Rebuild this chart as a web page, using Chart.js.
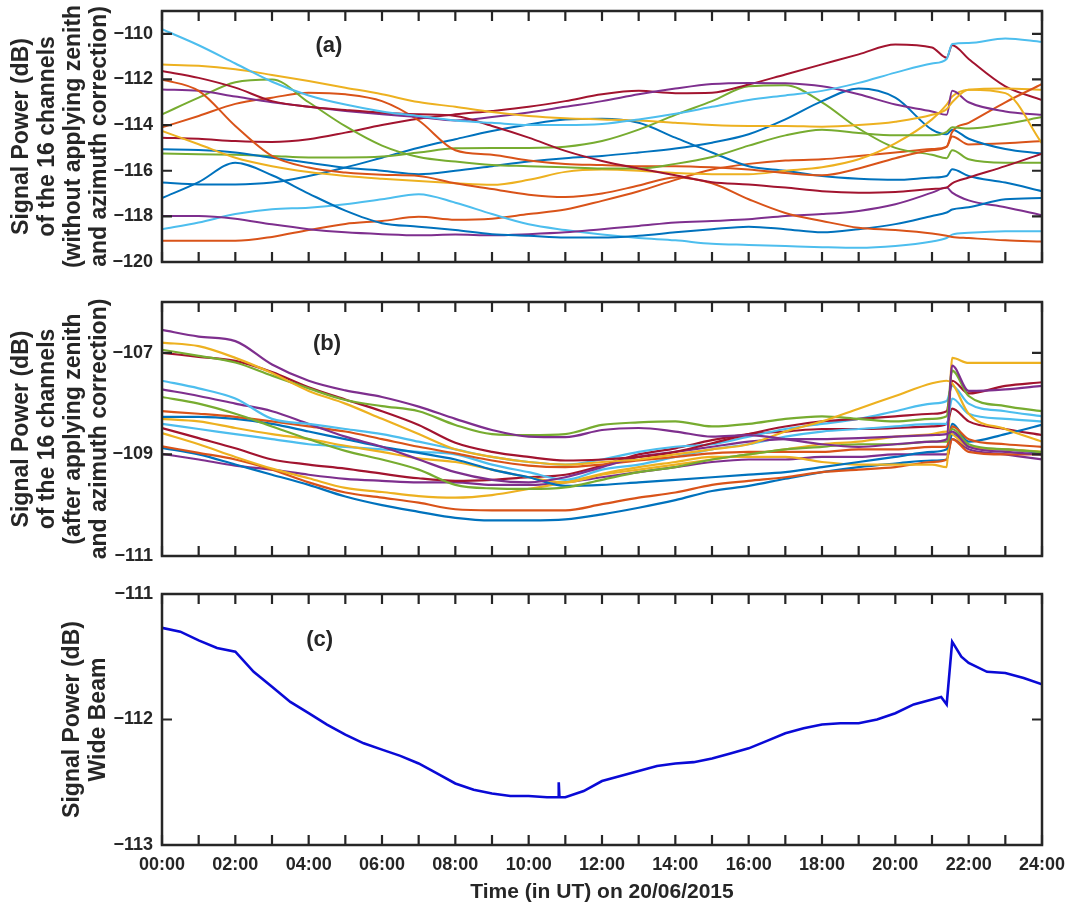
<!DOCTYPE html>
<html>
<head>
<meta charset="utf-8">
<script src="https://cdn.jsdelivr.net/npm/chart.js@4.4.1/dist/chart.umd.min.js"></script>
<style>
  body { margin: 0; background: #fff; }
  #wrap { position: relative; width: 1075px; height: 905px; background: #fff; }
  canvas { position: absolute; left: 0; }
</style>
</head>
<body>
<div id="wrap">
  <canvas id="chartA" width="1075" height="280" style="top:0"></canvas>
  <canvas id="chartB" width="1075" height="290" style="top:280px"></canvas>
  <canvas id="chartC" width="1075" height="335" style="top:570px"></canvas>
</div>
<script>
// ===== 数据（小时，dB） =====
const timeAB = [0, 1, 2, 3, 4, 5, 6, 7, 8, 9, 10, 11, 12, 13, 14, 15, 16, 17, 18, 19, 20, 21, 21.4, 21.55, 22, 23, 24];

// (a) 16 个通道，未做天顶/方位角修正
const aLightBlue1 = [-109.8, -110.5, -111.3, -112.1, -112.7, -113.1, -113.4, -113.6, -113.8, -113.9, -114.0, -114.0, -113.95, -113.75, -113.5, -113.2, -112.9, -112.7, -112.5, -112.15, -111.7, -111.3, -111.1, -110.45, -110.4, -110.2, -110.35];
const aYellow1 = [-111.35, -111.4, -111.55, -111.8, -112.07, -112.36, -112.65, -112.99, -113.2, -113.43, -113.6, -113.7, -113.75, -113.8, -113.9, -114.0, -114.04, -114.04, -114.07, -114.0, -113.85, -113.55, -113.3, -113.0, -112.45, -112.6, -114.8];
const aDarkRed1 = [-111.63, -111.93, -112.36, -112.95, -113.2, -113.34, -113.46, -113.53, -113.6, -114.04, -114.55, -115.13, -115.57, -115.9, -116.2, -116.5, -116.6, -116.74, -116.9, -116.96, -116.93, -116.8, -116.74, -116.55, -116.3, -115.8, -115.25];
const aOrange1 = [-112.0, -112.5, -114.04, -115.35, -115.86, -116.08, -116.18, -116.23, -116.55, -116.8, -117.05, -117.15, -117.0, -116.65, -116.3, -116.55, -117.25, -117.85, -118.2, -118.5, -118.6, -118.75, -118.85, -118.9, -118.95, -119.05, -119.1];
const aPurple1 = [-112.44, -112.5, -112.75, -113.0, -113.2, -113.38, -113.53, -113.65, -113.8, -113.65, -113.45, -113.2, -112.95, -112.65, -112.4, -112.2, -112.15, -112.17, -112.3, -112.65, -113.1, -113.4, -113.55, -112.5, -113.0, -113.4, -113.55];
const aGreen1 = [-113.53, -112.8, -112.12, -112.0, -113.0, -114.05, -114.9, -115.4, -115.6, -115.75, -115.8, -115.85, -115.9, -115.9, -115.7, -115.4, -114.9, -114.45, -114.2, -114.35, -114.45, -114.45, -114.3, -114.1, -114.15, -113.95, -113.65];
const aOrange2 = [-114.1, -113.6, -113.07, -112.8, -112.58, -112.65, -112.95, -113.8, -115.1, -115.3, -115.55, -115.7, -115.75, -115.8, -115.8, -115.85, -115.95, -116.1, -116.2, -115.9, -115.45, -115.1, -114.95, -114.3, -113.9, -113.0, -112.2];
const aYellow2 = [-114.26, -114.84, -115.43, -115.8, -116.06, -116.23, -116.35, -116.45, -116.55, -116.62, -116.4, -116.05, -115.95, -116.0, -116.1, -116.15, -116.15, -116.0, -115.85, -115.5, -114.8, -113.75, -113.1, -112.75, -112.45, -112.4, -112.45];
const aDarkRed2 = [-114.55, -114.6, -114.7, -114.74, -114.62, -114.33, -114.0, -113.72, -113.53, -113.38, -113.2, -112.95, -112.65, -112.5, -112.6, -112.58, -112.22, -111.78, -111.34, -110.9, -110.47, -110.6, -111.05, -110.5, -111.1, -112.3, -112.9];
const aBlue1 = [-115.06, -115.09, -115.2, -115.43, -115.65, -115.87, -116.0, -116.15, -116.0, -115.8, -115.6, -115.45, -115.35, -115.2, -115.03, -114.77, -114.4, -113.75, -112.95, -112.4, -112.8, -114.2, -114.4, -114.2, -114.6, -115.05, -115.25];
const aGreen2 = [-115.24, -115.28, -115.3, -115.35, -115.42, -115.42, -115.38, -115.2, -115.02, -115.0, -115.0, -114.95, -114.7, -114.2, -113.55, -112.95, -112.3, -112.25, -113.0, -114.15, -115.0, -115.3, -115.45, -115.1, -115.5, -115.65, -115.65];
const aBlue2 = [-116.52, -116.6, -116.6, -116.52, -116.23, -115.86, -115.43, -114.99, -114.62, -114.26, -113.97, -113.75, -113.72, -113.9, -114.55, -115.2, -115.8, -116.0, -116.23, -116.35, -116.4, -116.3, -116.23, -115.94, -116.23, -116.52, -116.9];
const aBlue3 = [-117.2, -116.5, -115.65, -116.2, -117.0, -117.75, -118.3, -118.45, -118.6, -118.78, -118.85, -118.93, -118.93, -118.85, -118.7, -118.56, -118.45, -118.56, -118.7, -118.56, -118.34, -117.98, -117.83, -117.7, -117.6, -117.25, -117.2];
const aPurple2 = [-117.98, -117.98, -118.1, -118.35, -118.56, -118.7, -118.78, -118.83, -118.8, -118.83, -118.78, -118.7, -118.56, -118.42, -118.27, -118.2, -118.13, -117.98, -117.9, -117.76, -117.47, -116.96, -116.74, -116.96, -117.3, -117.6, -117.95];
const aLightBlue2 = [-118.56, -118.27, -117.9, -117.69, -117.62, -117.47, -117.25, -117.03, -117.4, -117.9, -118.35, -118.6, -118.8, -118.95, -119.05, -119.2, -119.25, -119.3, -119.35, -119.38, -119.3, -119.1, -118.95, -118.8, -118.72, -118.65, -118.65];
const aOrange3 = [-119.07, -119.07, -119.07, -118.9, -118.6, -118.33, -118.2, -118.02, -118.15, -118.1, -117.9, -117.7, -117.32, -116.9, -116.4, -115.95, -115.7, -115.55, -115.5, -115.35, -115.2, -115.05, -114.95, -114.5, -114.85, -114.8, -114.7];

// (b) 16 个通道，做了天顶/方位角修正
const bPurple1 = [-106.55, -106.68, -106.77, -107.23, -107.55, -107.74, -107.87, -108.06, -108.3, -108.52, -108.65, -108.66, -108.52, -108.48, -108.55, -108.65, -108.62, -108.7, -108.8, -108.85, -108.8, -108.75, -108.7, -107.25, -107.75, -107.72, -107.65];
const bYellow1 = [-106.8, -106.87, -107.1, -107.4, -107.75, -108.0, -108.3, -108.6, -108.9, -109.05, -109.15, -109.2, -109.15, -109.1, -109.0, -108.9, -108.8, -108.55, -108.35, -108.1, -107.85, -107.6, -107.55, -107.6, -108.2, -108.5, -108.75];
const bGreen1 = [-106.94, -107.06, -107.19, -107.45, -107.7, -107.93, -108.05, -108.15, -108.42, -108.6, -108.62, -108.6, -108.42, -108.37, -108.35, -108.45, -108.4, -108.3, -108.25, -108.3, -108.35, -108.3, -108.25, -107.35, -107.85, -108.05, -108.15];
const bDarkRed1 = [-107.0, -107.08, -107.16, -107.38, -107.68, -107.92, -108.15, -108.42, -108.77, -108.95, -109.05, -109.12, -109.1, -109.05, -108.95, -108.78, -108.6, -108.45, -108.35, -108.3, -108.25, -108.2, -108.15, -107.55, -107.8, -107.65, -107.58];
const bLightBlue1 = [-107.55, -107.7, -107.9, -108.3, -108.4, -108.5, -108.6, -108.75, -108.9, -109.05, -109.15, -109.2, -109.1, -108.95, -108.85, -108.8, -108.65, -108.5, -108.4, -108.3, -108.15, -108.0, -107.95, -107.65, -108.0, -108.15, -108.25];
const bPurple2 = [-107.72, -107.85, -108.0, -108.15, -108.4, -108.65, -108.85, -109.1, -109.35, -109.5, -109.55, -109.45, -109.25, -109.05, -108.95, -108.85, -108.75, -108.7, -108.7, -108.68, -108.65, -108.62, -108.6, -108.55, -108.85, -108.95, -109.0];
const bGreen2 = [-107.87, -108.0, -108.2, -108.45, -108.7, -108.93, -109.1, -109.3, -109.6, -109.67, -109.68, -109.65, -109.5, -109.35, -109.25, -109.1, -109.0, -108.9, -108.85, -108.8, -108.8, -108.75, -108.75, -108.5, -108.8, -108.9, -108.95];
const bOrange1 = [-108.15, -108.2, -108.26, -108.35, -108.45, -108.55, -108.7, -108.85, -108.98, -109.12, -109.22, -109.25, -109.2, -109.12, -109.05, -108.98, -108.95, -108.95, -108.95, -108.9, -108.9, -108.85, -108.85, -108.45, -108.7, -108.8, -108.85];
const bBlue1 = [-108.26, -108.26, -108.3, -108.4, -108.55, -108.7, -108.85, -108.97, -109.1, -109.3, -109.45, -109.62, -109.6, -109.55, -109.5, -109.45, -109.4, -109.35, -109.25, -109.15, -109.05, -108.95, -108.9, -108.4, -108.75, -108.6, -108.42];
const bYellow2 = [-108.3, -108.35, -108.48, -108.6, -108.7, -108.83, -108.95, -109.08, -109.15, -109.3, -109.45, -109.55, -109.4, -109.3, -109.2, -109.1, -109.0, -108.9, -108.8, -108.75, -108.65, -108.6, -108.55, -108.6, -108.85, -108.9, -108.95];
const bLightBlue2 = [-108.4, -108.5, -108.6, -108.7, -108.8, -108.85, -108.9, -108.95, -109.0, -109.2, -109.35, -109.5, -109.3, -109.2, -109.05, -108.9, -108.8, -108.65, -108.55, -108.5, -108.45, -108.4, -108.4, -107.9, -108.2, -108.3, -108.35];
const bDarkRed2 = [-108.48, -108.68, -108.88, -109.1, -109.2, -109.28, -109.38, -109.47, -109.52, -109.5, -109.45, -109.4, -109.22, -109.0, -108.88, -108.72, -108.6, -108.55, -108.5, -108.5, -108.48, -108.45, -108.4, -108.1, -108.35, -108.5, -108.62];
const bYellow3 = [-108.58, -108.8, -109.05, -109.28, -109.47, -109.66, -109.74, -109.82, -109.85, -109.8, -109.68, -109.55, -109.38, -109.25, -109.15, -109.05, -109.05, -109.05, -109.15, -109.2, -109.2, -109.2, -109.25, -107.1, -107.2, -107.2, -107.2];
const bOrange2 = [-108.84, -108.97, -109.1, -109.3, -109.55, -109.75, -109.85, -109.95, -110.08, -110.1, -110.1, -110.1, -109.98, -109.85, -109.75, -109.6, -109.52, -109.45, -109.35, -109.3, -109.25, -109.15, -109.1, -108.7, -108.95, -109.0, -109.0];
const bBlue2 = [-108.87, -109.0, -109.2, -109.4, -109.6, -109.83, -110.0, -110.13, -110.25, -110.3, -110.3, -110.28, -110.18, -110.05, -109.9, -109.72, -109.62, -109.48, -109.35, -109.25, -109.18, -109.12, -109.1, -108.6, -108.85, -108.9, -108.97];
const bPurple3 = [-108.99, -109.1, -109.22, -109.3, -109.4, -109.48, -109.52, -109.55, -109.55, -109.6, -109.6, -109.55, -109.45, -109.35, -109.25, -109.15, -109.1, -109.1, -109.05, -109.05, -109.0, -109.0, -109.0, -108.7, -108.9, -109.0, -109.1];

// (c) 宽波束
const timeC = [0, 0.5, 1, 1.5, 2, 2.5, 3, 3.5, 4, 4.5, 5, 5.5, 6, 6.5, 7, 7.5, 8, 8.5, 9, 9.5, 10, 10.5, 10.8, 10.82, 10.84, 11, 11.5, 12, 12.5, 13, 13.5, 14, 14.5, 15, 15.5, 16, 16.5, 17, 17.5, 18, 18.5, 19, 19.5, 20, 20.5, 21, 21.25, 21.4, 21.55, 21.8, 22, 22.5, 23, 23.5, 24];
const wideBeam = [-111.27, -111.3, -111.37, -111.43, -111.46, -111.62, -111.74, -111.86, -111.95, -112.04, -112.12, -112.19, -112.24, -112.29, -112.35, -112.43, -112.51, -112.56, -112.59, -112.61, -112.61, -112.62, -112.62, -112.5, -112.62, -112.62, -112.57, -112.49, -112.45, -112.41, -112.37, -112.35, -112.34, -112.31, -112.27, -112.23, -112.17, -112.11, -112.07, -112.04, -112.03, -112.03, -112.0, -111.95, -111.88, -111.84, -111.82, -111.88, -111.38, -111.5, -111.55, -111.62, -111.63, -111.67, -111.72];

// 刻度
const hourTicks = [0, 1, 2, 3, 4, 5, 6, 7, 8, 9, 10, 11, 12, 13, 14, 15, 16, 17, 18, 19, 20, 21, 22, 23, 24];
const xLabelHours = [0, 2, 4, 6, 8, 10, 12, 14, 16, 18, 20, 22, 24];
const xTickLabels = ['00:00', '02:00', '04:00', '06:00', '08:00', '10:00', '12:00', '14:00', '16:00', '18:00', '20:00', '22:00', '24:00'];
const yTicksA = [-120, -118, -116, -114, -112, -110];
const yTicksB = [-111, -109, -107];
const yTicksC = [-113, -112, -111];

// ===== 样式 =====
const C_BLUE = '#0072BD', C_ORANGE = '#D95319', C_YELLOW = '#EDB120', C_PURPLE = '#7E2F8E',
      C_GREEN = '#77AC30', C_LBLUE = '#4DBEEE', C_DRED = '#A2142F';
const AXIS_COLOR = '#262626';
const FONT = '"Liberation Sans", Arial, Helvetica, sans-serif';
const TICK_LEN = 10;

const seriesA = [
    [aLightBlue1, C_LBLUE], [aYellow1, C_YELLOW], [aDarkRed1, C_DRED], [aOrange1, C_ORANGE],
    [aPurple1, C_PURPLE], [aGreen1, C_GREEN], [aOrange2, C_ORANGE], [aYellow2, C_YELLOW],
    [aDarkRed2, C_DRED], [aBlue1, C_BLUE], [aGreen2, C_GREEN], [aBlue2, C_BLUE],
    [aBlue3, C_BLUE], [aPurple2, C_PURPLE], [aLightBlue2, C_LBLUE], [aOrange3, C_ORANGE]
];
const seriesB = [
    [bPurple1, C_PURPLE], [bYellow1, C_YELLOW], [bGreen1, C_GREEN], [bDarkRed1, C_DRED],
    [bLightBlue1, C_LBLUE], [bPurple2, C_PURPLE], [bGreen2, C_GREEN], [bOrange1, C_ORANGE],
    [bBlue1, C_BLUE], [bYellow2, C_YELLOW], [bLightBlue2, C_LBLUE], [bDarkRed2, C_DRED],
    [bYellow3, C_YELLOW], [bOrange2, C_ORANGE], [bBlue2, C_BLUE], [bPurple3, C_PURPLE]
];

// 画 MATLAB 风格的边框、向内刻度和 (a)(b)(c) 标记
const boxPlugin = {
    id: 'matlabBox',
    afterDatasetsDraw(chart, args, opts) {
        const { ctx, chartArea: a } = chart;
        const x = chart.scales.x, y = chart.scales.y;
        ctx.save();
        ctx.strokeStyle = AXIS_COLOR;
        ctx.lineWidth = 2.2;
        ctx.beginPath();
        hourTicks.forEach(h => {
            const px = x.getPixelForValue(h);
            ctx.moveTo(px, a.bottom); ctx.lineTo(px, a.bottom - TICK_LEN);
            ctx.moveTo(px, a.top); ctx.lineTo(px, a.top + TICK_LEN);
        });
        opts.yTicks.forEach(v => {
            const py = y.getPixelForValue(v);
            ctx.moveTo(a.left, py); ctx.lineTo(a.left + TICK_LEN, py);
            ctx.moveTo(a.right, py); ctx.lineTo(a.right - TICK_LEN, py);
        });
        ctx.stroke();
        ctx.lineWidth = 2.5;
        ctx.strokeRect(a.left, a.top, a.right - a.left, a.bottom - a.top);
        ctx.fillStyle = AXIS_COLOR;
        ctx.font = 'bold 22px ' + FONT;
        ctx.textAlign = 'center';
        ctx.textBaseline = 'middle';
        ctx.fillText(opts.label, x.getPixelForValue(opts.labelAt[0]), y.getPixelForValue(opts.labelAt[1]));
        ctx.restore();
    }
};

function makePanel(canvasId, p) {
    const datasets = p.series.map(([vals, color]) => ({
        data: vals.map((v, i) => ({ x: p.time[i], y: v })),
        borderColor: color,
        borderWidth: p.lineWidth,
        pointRadius: 0,
        fill: false,
        tension: p.smooth ? 0.4 : 0,
        cubicInterpolationMode: p.smooth ? 'monotone' : 'default'
    }));

    return new Chart(document.getElementById(canvasId), {
        type: 'line',
        data: { datasets },
        options: {
            responsive: false,
            animation: false,
            devicePixelRatio: 1,
            layout: { padding: p.padding },
            plugins: {
                legend: { display: false },
                tooltip: { enabled: false },
                matlabBox: { yTicks: p.yTicks, label: p.label, labelAt: p.labelAt }
            },
            scales: {
                x: {
                    type: 'linear',
                    min: 0,
                    max: 24,
                    display: p.showX,
                    grid: { display: false, drawTicks: false },
                    border: { display: false },
                    afterBuildTicks: s => { s.ticks = xLabelHours.map(v => ({ value: v })); },
                    afterFit: s => {
                        if (p.showX) s.height = p.xHeight;
                        s.paddingLeft = 0; s.paddingRight = 0;
                    },
                    ticks: {
                        autoSkip: false,
                        maxRotation: 0,
                        padding: 9,
                        color: AXIS_COLOR,
                        font: { family: FONT, size: 18, weight: 'bold' },
                        callback: (v, i) => xTickLabels[i]
                    },
                    title: {
                        display: p.showX,
                        text: 'Time (in UT) on 20/06/2015',
                        color: AXIS_COLOR,
                        font: { family: FONT, size: 21, weight: 'bold' },
                        padding: { top: 2, bottom: 0 }
                    }
                },
                y: {
                    type: 'linear',
                    min: p.yMin,
                    max: p.yMax,
                    grid: { display: false, drawTicks: false },
                    border: { display: false },
                    afterBuildTicks: s => { s.ticks = p.yTicks.map(v => ({ value: v })); },
                    afterFit: s => {
                        s.width = 162;
                        s.paddingTop = 0; s.paddingBottom = 0;
                    },
                    ticks: {
                        padding: 9,
                        color: AXIS_COLOR,
                        font: { family: FONT, size: 18, weight: 'bold' },
                        callback: v => String(v).replace('-', '\u2212')
                    },
                    title: {
                        display: true,
                        text: p.yTitle,
                        color: AXIS_COLOR,
                        font: { family: FONT, size: 23, weight: 'bold', lineHeight: 1.12 },
                        padding: { top: p.yTitlePad, bottom: 0 }
                    }
                }
            }
        },
        plugins: [boxPlugin]
    });
}

makePanel('chartA', {
    time: timeAB, series: seriesA, lineWidth: 2, smooth: true,
    yMin: -120, yMax: -109, yTicks: yTicksA,
    yTitle: ['Signal Power (dB)', 'of the 16 channels', '(without applying zenith', 'and azimuth correction)'],
    yTitlePad: 9, padding: { top: 11, right: 33, bottom: 18, left: 0 },
    showX: false, label: '(a)', labelAt: [4.55, -110.55]
});

makePanel('chartB', {
    time: timeAB, series: seriesB, lineWidth: 2.2, smooth: true,
    yMin: -111, yMax: -106, yTicks: yTicksB,
    yTitle: ['Signal Power (dB)', 'of the 16 channels', '(after applying zenith', 'and azimuth correction)'],
    yTitlePad: 9, padding: { top: 22, right: 33, bottom: 14, left: 0 },
    showX: false, label: '(b)', labelAt: [4.5, -106.83]
});

makePanel('chartC', {
    time: timeC, series: [[wideBeam, '#0a0ad6']], lineWidth: 2.6, smooth: false,
    yMin: -113, yMax: -111, yTicks: yTicksC,
    yTitle: ['Signal Power (dB)', 'Wide Beam'],
    yTitlePad: 60, padding: { top: 24, right: 33, bottom: 0, left: 0 },
    showX: true, xHeight: 60, label: '(c)', labelAt: [4.3, -111.37]
});
</script>
</body>
</html>
